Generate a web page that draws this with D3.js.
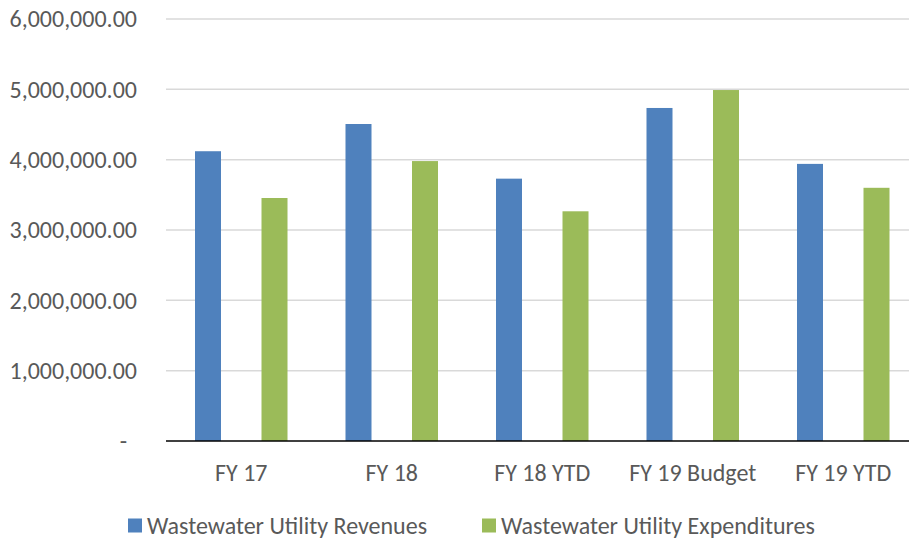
<!DOCTYPE html>
<html>
<head>
<meta charset="utf-8">
<script src="https://cdn.jsdelivr.net/npm/d3@7.9.0/dist/d3.min.js"></script>
<style>
  html, body { margin: 0; padding: 0; background: #fff; }
  svg text { font-family: Carlito, Calibri, Lato, sans-serif; fill: #595959; }
</style>
</head>
<body>
<svg id="chart" width="909" height="541"></svg>
<script>
const categories = ['FY 17', 'FY 18', 'FY 18 YTD', 'FY 19 Budget', 'FY 19 YTD'];
const series     = ['Wastewater Utility Revenues', 'Wastewater Utility Expenditures'];
const revenues   = [4120000, 4507000, 3730000, 4735000, 3940000];
const expenses   = [3455000, 3980000, 3266000, 4990000, 3600000];
const yTicks     = [0, 1000000, 2000000, 3000000, 4000000, 5000000, 6000000];

const colors = d3.scaleOrdinal().domain(series).range(['#4F81BD', '#9BBB59']);

const svg = d3.select('#chart');
const plotLeft = 166, plotTop = 19, plotBottom = 441;
const step = 150.5;

const x = d3.scaleBand()
  .domain(categories)
  .range([plotLeft, plotLeft + step * categories.length]);

const xInner = d3.scaleBand()
  .domain(series)
  .range([0, x.bandwidth()])
  .paddingInner(0.609)
  .paddingOuter(0.436);

const y = d3.scaleLinear().domain([0, 6000000]).range([plotBottom, plotTop]);

// gridlines
svg.append('g')
  .selectAll('line')
  .data(yTicks.filter(d => d > 0))
  .join('line')
  .attr('x1', plotLeft)
  .attr('x2', x.range()[1])
  .attr('y1', d => y(d))
  .attr('y2', d => y(d))
  .attr('stroke', '#D9D9D9')
  .attr('stroke-width', 1.5);

// y labels
const fmt = d => d === 0 ? '-' : d3.format(',.2f')(d);
svg.append('g')
  .selectAll('text')
  .data(yTicks)
  .join('text')
  .attr('x', d => d === 0 ? 127 : 137)
  .attr('y', d => y(d))
  .attr('dy', '0.35em')
  .attr('text-anchor', 'end')
  .style('font-size', '24px')
  .text(fmt);

// bars
const rows = categories.map((c, i) => ({ cat: c, values: [revenues[i], expenses[i]] }));
svg.append('g')
  .selectAll('g')
  .data(rows)
  .join('g')
  .attr('transform', d => `translate(${x(d.cat)},0)`)
  .selectAll('rect')
  .data(d => d.values.map((v, j) => ({ key: series[j], value: v })))
  .join('rect')
  .attr('x', d => xInner(d.key))
  .attr('width', xInner.bandwidth())
  .attr('y', d => y(d.value))
  .attr('height', d => y(0) - y(d.value))
  .attr('fill', d => colors(d.key));

// x axis line
svg.append('line')
  .attr('x1', plotLeft)
  .attr('x2', x.range()[1])
  .attr('y1', y(0))
  .attr('y2', y(0))
  .attr('stroke', '#000')
  .attr('stroke-width', 1.5);

// x labels
svg.append('g')
  .selectAll('text')
  .data(categories)
  .join('text')
  .attr('x', d => x(d) + x.bandwidth() / 2)
  .attr('y', 473)
  .attr('dy', '0.35em')
  .attr('text-anchor', 'middle')
  .style('font-size', '24px')
  .text(d => d);

// legend
const legendX = [128, 482];
const legend = svg.append('g')
  .selectAll('g')
  .data(series)
  .join('g')
  .attr('transform', (d, i) => `translate(${legendX[i]},525.5)`);

legend.append('rect')
  .attr('x', 0)
  .attr('y', -7)
  .attr('width', 14)
  .attr('height', 14)
  .attr('fill', d => colors(d));

legend.append('text')
  .attr('x', 19)
  .attr('dy', '0.35em')
  .style('font-size', '24px')
  .text(d => d);
</script>
</body>
</html>
